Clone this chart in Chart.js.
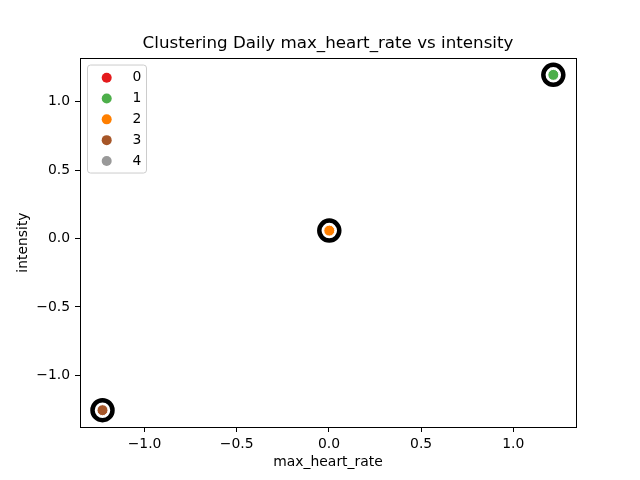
<!DOCTYPE html>
<html>
<head>
<meta charset="utf-8">
<script src="https://cdn.jsdelivr.net/npm/chart.js@4.4.1/dist/chart.umd.min.js"></script>
<style>
  html, body { margin: 0; padding: 0; background: #fff; }
  #wrap { width: 640px; height: 480px; }
</style>
</head>
<body>
<div id="wrap"><canvas id="c" width="640" height="480"></canvas></div>
<script>
// ---- data ----
const clusterLabels = ['0', '1', '2', '3', '4'];
const clusterColors = ['#e41a1c', '#4daf4a', '#ff7f00', '#a65628', '#999999'];
const pointX = [1.217, 0.002, -1.228];
const pointY = [1.197, 0.058, -1.255];
const pointCluster = [1, 2, 3];
const centroidX = [1.217, 0.002, -1.228];
const centroidY = [1.197, 0.058, -1.255];
const xTicks = [-1.0, -0.5, 0.0, 0.5, 1.0];
const yTicks = [-1.0, -0.5, 0.0, 0.5, 1.0];
const xRange = [-1.350, 1.340];
const yRange = [-1.378, 1.320];
const titleText = 'Clustering Daily max_heart_rate vs intensity';
const xLabel = 'max_heart_rate';
const yLabel = 'intensity';

const FONT = "'DejaVu Sans', 'Liberation Sans', sans-serif";
Chart.defaults.font.family = FONT;
Chart.defaults.color = '#000';

const fmt = v => (v < 0 ? '\u2212' : '') + Math.abs(v).toFixed(1);

const clusterDatasets = clusterLabels.map((lab, ci) => {
  const data = [];
  pointCluster.forEach((c, i) => { if (c === ci) data.push({ x: pointX[i], y: pointY[i] }); });
  return {
    label: lab,
    data,
    backgroundColor: clusterColors[ci],
    borderColor: '#ffffff',
    borderWidth: 1,
    pointRadius: 5.5,
    pointHoverRadius: 5.5,
    order: 0
  };
});

const centroidDataset = {
  label: 'centroids',
  data: centroidX.map((x, i) => ({ x, y: centroidY[i] })),
  backgroundColor: 'rgba(0,0,0,0)',
  borderColor: '#000000',
  borderWidth: 4.5,
  pointRadius: 10,
  pointHoverRadius: 10,
  order: 10
};

const framePlugin = {
  id: 'frame',
  afterDraw(chart) {
    const { ctx, chartArea: a } = chart;
    const l = Math.round(a.left), t = Math.round(a.top);
    const r = Math.round(a.right), b = Math.round(a.bottom);
    ctx.save();
    ctx.fillStyle = '#000';
    ctx.fillRect(l, t, r - l + 1, 1);      // top
    ctx.fillRect(l, b, r - l + 1, 1);      // bottom
    ctx.fillRect(l, t, 1, b - t + 1);      // left
    ctx.fillRect(r, t, 1, b - t + 1);      // right
    ctx.restore();
  }
};

const legendPlugin = {
  id: 'mplLegend',
  afterDraw(chart) {
    const { ctx, chartArea: a } = chart;
    const bx = a.left + 7.5, by = a.top + 7, bw = 59, bh = 108, r = 3;
    ctx.save();
    ctx.beginPath();
    ctx.moveTo(bx + r, by);
    ctx.lineTo(bx + bw - r, by);
    ctx.quadraticCurveTo(bx + bw, by, bx + bw, by + r);
    ctx.lineTo(bx + bw, by + bh - r);
    ctx.quadraticCurveTo(bx + bw, by + bh, bx + bw - r, by + bh);
    ctx.lineTo(bx + r, by + bh);
    ctx.quadraticCurveTo(bx, by + bh, bx, by + bh - r);
    ctx.lineTo(bx, by + r);
    ctx.quadraticCurveTo(bx, by, bx + r, by);
    ctx.closePath();
    ctx.fillStyle = 'rgba(255,255,255,0.8)';
    ctx.fill();
    ctx.strokeStyle = '#cccccc';
    ctx.lineWidth = 1;
    ctx.stroke();
    ctx.font = '13.9px ' + FONT;
    ctx.textBaseline = 'middle';
    ctx.textAlign = 'left';
    clusterLabels.forEach((lab, i) => {
      const y = by + 12.7 + i * 20.8;
      ctx.beginPath();
      ctx.arc(bx + 19.2, y, 5, 0, Math.PI * 2);
      ctx.fillStyle = clusterColors[i];
      ctx.fill();
      ctx.fillStyle = '#000';
      ctx.fillText(lab, bx + 45, y);
    });
    ctx.restore();
  }
};

new Chart(document.getElementById('c'), {
  type: 'scatter',
  data: { datasets: [...clusterDatasets, centroidDataset] },
  options: {
    responsive: false,
    devicePixelRatio: 1,
    animation: false,
    layout: { padding: { left: 0, right: 64, top: 0, bottom: 0 } },
    plugins: {
      legend: { display: false },
      tooltip: { enabled: false },
      title: {
        display: true,
        text: titleText,
        fullSize: false,
        color: '#000',
        font: { size: 16.7, weight: 'normal', family: FONT },
        padding: { top: 34, bottom: 4 }
      }
    },
    scales: {
      x: {
        type: 'linear',
        min: xRange[0],
        max: xRange[1],
        afterBuildTicks: s => { s.ticks = xTicks.map(v => ({ value: v })); },
        afterFit: s => { s.height = 53; },
        ticks: { callback: fmt, font: { size: 13.9 }, padding: 4, color: '#000', maxRotation: 0 },
        grid: { drawOnChartArea: false, drawTicks: true, tickLength: 5, tickColor: '#000', tickWidth: 1 },
        border: { display: false },
        title: { display: true, text: xLabel, font: { size: 13.9 }, color: '#000', padding: { top: 0, bottom: 9 } }
      },
      y: {
        type: 'linear',
        min: yRange[0],
        max: yRange[1],
        afterBuildTicks: s => { s.ticks = yTicks.map(v => ({ value: v })); },
        afterFit: s => { s.width = 80; },
        ticks: { callback: fmt, font: { size: 13.9 }, padding: 5, color: '#000' },
        grid: { drawOnChartArea: false, drawTicks: true, tickLength: 5, tickColor: '#000', tickWidth: 1 },
        border: { display: false },
        title: { display: true, text: yLabel, font: { size: 13.9 }, color: '#000', padding: { top: 15, bottom: 0 } }
      }
    }
  },
  plugins: [framePlugin, legendPlugin]
});
</script>
</body>
</html>
